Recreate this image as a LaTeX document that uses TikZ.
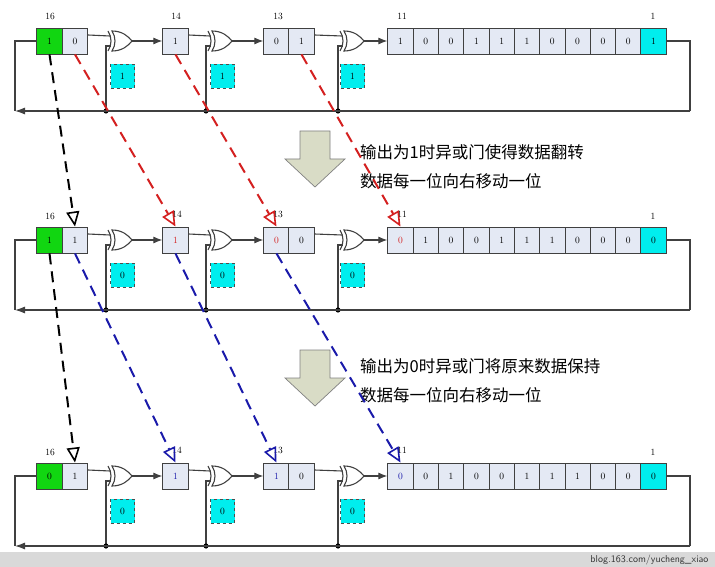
\documentclass[tikz,border=0pt]{standalone}
\usepackage{fontspec}
\newfontfamily\cjk{Noto Sans CJK SC}
\usetikzlibrary{arrows.meta}
\definecolor{cellf}{HTML}{E4E9F4}
\definecolor{gr}{HTML}{11D611}
\definecolor{cy}{HTML}{00EEEE}
\definecolor{bigf}{HTML}{D9DCC6}
\definecolor{rd}{HTML}{D42020}
\definecolor{bl}{HTML}{1A1AAA}
\tikzset{
 cell/.style={draw=black!75,fill=cellf,minimum width=25.3pt,minimum height=26pt,inner sep=0pt,line width=0.9pt,font=\fontsize{9.5}{10}\selectfont},
 sq/.style={draw=black!70,dashed,line width=0.9pt,fill=cy,minimum size=24pt,inner sep=0pt,font=\fontsize{9.5}{10}\selectfont},
 lab/.style={font=\fontsize{9.5}{10}\selectfont,inner sep=0pt},
 wire/.style={draw=black!75,line width=1.1pt},
 sig/.style={wire,-{Latex[length=9pt,width=7pt]}},
 jump/.style={line width=2pt,dash pattern=on 11pt off 7pt,-{Triangle[open,length=15pt,width=13pt,line width=1.6pt]}},
 big/.style={draw=black!50,fill=bigf,line width=0.7pt},
 cn/.style={font=\cjk\fontsize{16.5}{18}\selectfont,anchor=west,inner sep=0pt}
}
\newcommand\xorg[3]{% prefix, x0, y
 \draw[wire,fill=white] (#2+4,#3-10) .. controls (#2+14,#3-10) and (#2+20,#3-5) .. (#2+24,#3)
   .. controls (#2+20,#3+5) and (#2+14,#3+10) .. (#2+4,#3+10)
   .. controls (#2+8,#3+4) and (#2+8,#3-4) .. (#2+4,#3-10) -- cycle;
 \draw[wire] (#2,#3-10) .. controls (#2+4,#3-4) and (#2+4,#3+4) .. (#2,#3+10);
 \coordinate (#1i) at (#2+2,#3-5);
 \coordinate (#1j) at (#2+3,#3+5);
 \coordinate (#1o) at (#2+24,#3);
 \coordinate (#1d) at (#2-2,#3+70);
 \draw[wire] (#1d) |- (#1j);
 \fill (#1d) circle (2.6pt);
}
\newcommand\regrow[9]{%
 \node[cell,fill=gr] (#1g) at (49.5,#2) {#3};
 \node[cell] (#1b) at (75,#2) {#4};
 \node[cell] (#1c14) at (175.5,#2) {#5};
 \node[cell] (#1c13a) at (276.5,#2) {#6};
 \node[cell] (#1c13b) at (301.5,#2) {#7};
 \foreach \v [count=\i from 0] in {#8} {\node[cell] (#1k\i) at (400.5+25.3*\i,#2) {\v};}
 \node[cell,fill=cy] (#1k10) at (653.5,#2) {#9};
 \xorg{#1xa}{108}{#2}\xorg{#1xb}{208}{#2}\xorg{#1xc}{340}{#2}
 \draw[wire] ([yshift=6pt]#1b.east) -- (#1xai);
 \draw[wire] ([yshift=6pt]#1c14.east) -- (#1xbi);
 \draw[wire] ([yshift=6pt]#1c13b.east) -- (#1xci);
 \draw[sig] (#1xao) -- (#1c14.west);
 \draw[sig] (#1xbo) -- (#1c13a.west);
 \draw[sig] (#1xco) -- (#1k0.west);
 \node[sq] (#1s1) at (122.5,#2+35) {\sqv};
 \node[sq] (#1s2) at (222.5,#2+35) {\sqv};
 \node[sq] (#1s3) at (352.5,#2+35) {\sqv};
 \coordinate (#1r) at (690,#2+70);
 \coordinate (#1l) at (15,#2+70);
 \coordinate (#1m) at (15,#2);
 \draw[wire] (#1k10.east) -| (#1r);
 \draw[wire,-{Latex[length=10pt,width=7pt]}] (#1r) -- (#1l);
 \draw[wire] (#1l) -- (#1m) -- (#1g.west);
}
\newcommand\bigarrow[2]{%
 \draw[big] (#1-15,#2) -- (#1+15,#2) -- (#1+15,#2+28) -- (#1+30,#2+28) -- (#1,#2+56) -- (#1-30,#2+28) -- (#1-15,#2+28) -- cycle;}
\begin{document}
\begin{tikzpicture}[x=1pt,y=-1pt]
\useasboundingbox (0,0) rectangle (715,567);
\fill[white] (0,0) rectangle (715,567);
\fill[black!15] (0,552) rectangle (715,567);
\node[anchor=east,font=\fontsize{10}{11}\sffamily,text=black!80] (wm) at (712,560) {blog.163.com/yucheng\_xiao};
\def\sqv{1}
\regrow{a}{41}{1}{0}{1}{0}{1}{1,0,0,1,1,1,0,0,0,0}{1}
\node[lab] (al16) at (50,16) {16};
\node[lab] (al14) at (176,16) {14};
\node[lab] (al13) at (278,16) {13};
\node[lab] (al11) at (402,16) {11};
\node[lab] (al1) at (653,16) {1};
\def\sqv{0}
\regrow{b}{240}{1}{1}{\textcolor{rd}{1}}{\textcolor{rd}{0}}{0}{\textcolor{rd}{0},1,0,0,1,1,1,0,0,0}{0}
\node[lab] (bl16) at (50,216) {16};
\node[lab] (bl14) at (177,214) {14};
\node[lab] (bl13) at (278,214) {13};
\node[lab] (bl11) at (402,214) {11};
\node[lab] (bl1) at (653,216) {1};
\regrow{c}{476}{0}{1}{\textcolor{bl}{1}}{\textcolor{bl}{1}}{0}{\textcolor{bl}{0},0,1,0,0,1,1,1,0,0}{0}
\node[lab] (cl16) at (50,452) {16};
\node[lab] (cl14) at (177,450) {14};
\node[lab] (cl13) at (278,450) {13};
\node[lab] (cl11) at (402,450) {11};
\node[lab] (cl1) at (653,452) {1};
\bigarrow{315}{131}
\bigarrow{315}{350}
\node[cn] (t1) at (360,152) {输出为1时异或门使得数据翻转};
\node[cn] (t2) at (360,181) {数据每一位向右移动一位};
\node[cn] (t3) at (360,366) {输出为0时异或门将原来数据保持};
\node[cn] (t4) at (360,395) {数据每一位向右移动一位};
\draw[jump,black] (ag.south) -- (bb.north);
\draw[jump,rd] (ab.south) -- (bc14.north);
\draw[jump,rd] (ac14.south) -- (bc13a.north);
\draw[jump,rd] (ac13b.south) -- (bk0.north);
\draw[jump,black] (bg.south) -- (cb.north);
\draw[jump,bl] (bb.south) -- (cc14.north);
\draw[jump,bl] (bc14.south) -- (cc13a.north);
\draw[jump,bl] (bc13a.south) -- (ck0.north);
\end{tikzpicture}
\end{document}
